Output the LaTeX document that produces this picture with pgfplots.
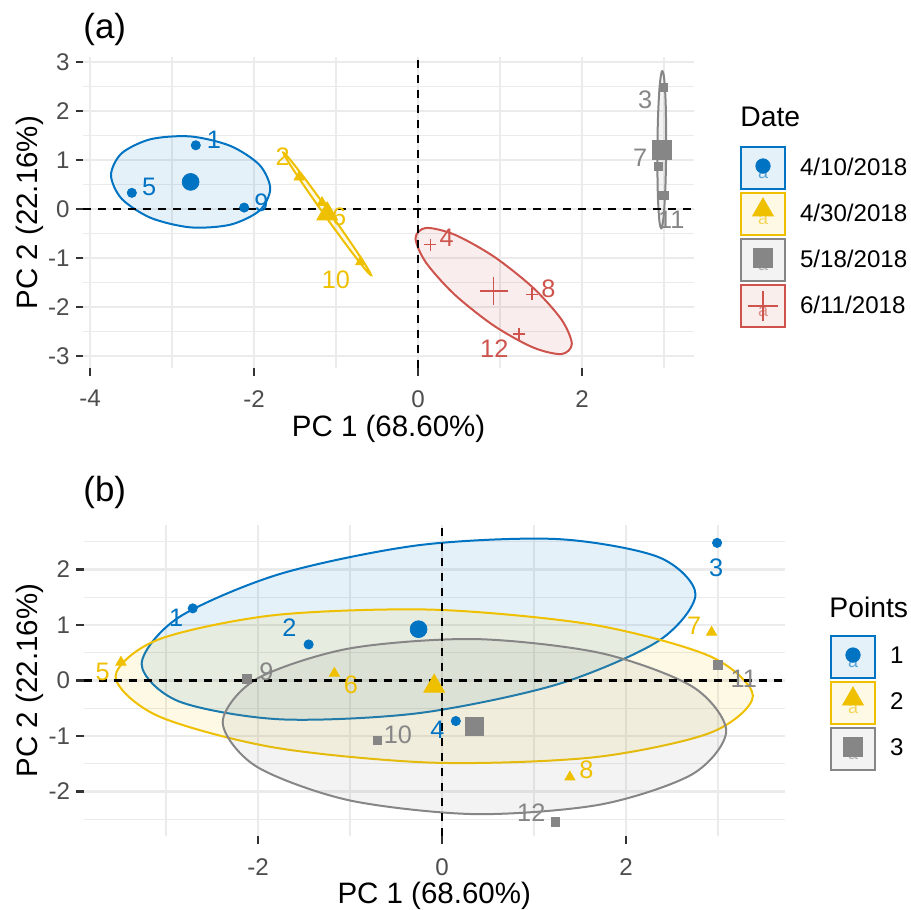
\documentclass[border=0pt]{standalone}
\usepackage{fontspec}
\setmainfont{Liberation Sans}
\usepackage{pgfplots}
\pgfplotsset{compat=1.18}
\definecolor{cB}{HTML}{0073C2}
\definecolor{cY}{HTML}{EFC000}
\definecolor{cG}{HTML}{868686}
\definecolor{cR}{HTML}{CD534C}
\definecolor{gridc}{HTML}{EBEBEB}
\definecolor{tickc}{HTML}{333333}
\definecolor{tlab}{HTML}{4D4D4D}
\newcommand{\fTick}{\fontsize{12.1}{14}\selectfont}
\newcommand{\fTitle}{\fontsize{14.8}{17}\selectfont}
\newcommand{\fLab}{\fontsize{12.7}{15}\selectfont}
\newcommand{\fLeg}{\fontsize{14.2}{17}\selectfont}
\newcommand{\fA}{\fontsize{9}{9}\selectfont}
\pgfplotsset{
  ggbase/.style={
    scale only axis,
    axis line style={draw=none},
    tick align=outside,
    tick pos=left,
    major tick length=3.75bp,
    minor tick length=0pt,
    major tick style={draw=tickc, line width=1.2bp},
    grid=both,
    major grid style={draw=gridc, line width=1.2bp},
    minor grid style={draw=gridc, line width=0.6bp},
    tick label style={font=\fTick, text=tlab, inner sep=0pt},
    xticklabel shift=7.15bp,
    yticklabel shift=2.85bp,
    legend cell align=left,
    legend style={draw=none, fill=none, inner sep=0pt, outer sep=0pt,
      row sep=1bp, column sep=7bp, font=\fTick, nodes={inner sep=0pt}},
  },
  ell/.style={smooth cycle, draw=#1, fill=#1, fill opacity=0.1, line width=1bp},
  zl/.style={black, line width=1.2bp, dash pattern=on 4bp off 3.5bp},
  lab/.style={draw=none, mark=none, nodes near coords, point meta=explicit symbolic,
    every node near coord/.append style={text=#1, font=\fLab, anchor=center, inner sep=0pt}},
  mB/.style={only marks, mark=*, mark size=2.3bp, color=cB},
  mBb/.style={only marks, mark=*, mark size=4.2bp, color=cB},
  mY/.style={only marks, mark=triangle*, mark size=2.9bp, color=cY},
  mYb/.style={only marks, mark=triangle*, mark size=6bp, color=cY},
  mG/.style={only marks, mark=square*, mark size=2.1bp, color=cG},
  mGb/.style={only marks, mark=square*, mark size=4.6bp, color=cG},
  mR/.style={only marks, mark=+, mark size=3bp, color=cR, line width=0.7bp},
  mRb/.style={only marks, mark=+, mark size=7bp, color=cR, line width=0.7bp},
}
\begin{document}
\begin{tikzpicture}
\useasboundingbox (0,0) rectangle (455.5bp,455bp);

% ---------------- panel (a) ----------------
\begin{axis}[ggbase, at={(41.6bp,270.9bp)}, anchor=south west,
  width=305.4bp, height=155.4bp,
  xmin=-4.083, xmax=3.366, ymin=-3.248, ymax=3.094,
  xtick={-4,-2,0,2}, xticklabels={-4,-2,0,2}, minor xtick={-3,-1,1,3},
  ytick={-3,-2,-1,0,1,2,3}, yticklabels={-3,-2,-1,0,1,2,3},
  minor ytick={-2.5,-1.5,-0.5,0.5,1.5,2.5},
  legend style={at={(1.0753,0.7149)}, anchor=north west}]
\addlegendimage{legend image code/.code={%
  \draw[draw=cB, fill=cB!10, line width=1bp] (0bp,-10.5bp) rectangle (22bp,10.5bp);
  \node[anchor=center, text=cB!65, font=\fA, inner sep=0pt] at (11bp,-3.5bp) {a};
  \draw[cB, mark=*, mark size=3.6bp] plot coordinates {(11bp,1bp)};}}
\addlegendentry{4/10/2018}
\addlegendimage{legend image code/.code={%
  \draw[draw=cY, fill=cY!10, line width=1bp] (0bp,-10.5bp) rectangle (22bp,10.5bp);
  \node[anchor=center, text=cY!65, font=\fA, inner sep=0pt] at (11bp,-3.5bp) {a};
  \draw[cY, mark=triangle*, mark size=6bp] plot coordinates {(11bp,2bp)};}}
\addlegendentry{4/30/2018}
\addlegendimage{legend image code/.code={%
  \draw[draw=cG, fill=cG!10, line width=1bp] (0bp,-10.5bp) rectangle (22bp,10.5bp);
  \node[anchor=center, text=cG!65, font=\fA, inner sep=0pt] at (11bp,-3.5bp) {a};
  \draw[cG, mark=square*, mark size=4.8bp] plot coordinates {(11bp,1bp)};}}
\addlegendentry{5/18/2018}
\addlegendimage{legend image code/.code={%
  \draw[draw=cR, fill=cR!10, line width=1bp] (0bp,-10.5bp) rectangle (22bp,10.5bp);
  \node[anchor=center, text=cR!65, font=\fA, inner sep=0pt] at (11bp,-3.5bp) {a};
  \draw[cR, mark=+, mark size=7.5bp, line width=0.7bp] plot coordinates {(11bp,0bp)};}}
\addlegendentry{6/11/2018}

% ellipses
\addplot[ell=cB] coordinates {(-1.802,0.415) (-1.932,0.897) (-2.287,1.287) (-2.773,1.481) (-3.259,1.425) (-3.614,1.137) (-3.744,0.691) (-3.614,0.209) (-3.259,-0.181) (-2.773,-0.375) (-2.287,-0.319) (-1.932,-0.031)};
\addplot[ell=cY] coordinates {(-0.571,-1.350) (-0.643,-1.133) (-0.839,-0.639) (-1.107,-0.001) (-1.375,0.611) (-1.571,1.032) (-1.643,1.150) (-1.571,0.933) (-1.375,0.439) (-1.107,-0.200) (-0.839,-0.811) (-0.643,-1.232)};
\addplot[ell=cG] coordinates {(3.027,1.417) (3.020,2.187) (3.000,2.696) (2.973,2.806) (2.946,2.489) (2.926,1.829) (2.919,1.003) (2.926,0.233) (2.946,-0.276) (2.973,-0.386) (3.000,-0.069) (3.020,0.591)};
\addplot[ell=cR] coordinates {(1.876,-2.752) (1.749,-2.254) (1.400,-1.601) (0.923,-0.968) (0.446,-0.523) (0.097,-0.386) (-0.030,-0.595) (0.097,-1.092) (0.446,-1.745) (0.923,-2.378) (1.400,-2.823) (1.749,-2.960)};
% zero lines
\addplot[zl] coordinates {(0,-3.248) (0,3.094)};
\addplot[zl] coordinates {(-4.083,0) (3.366,0)};
% points
\addplot[mB] coordinates {(-2.71,1.30) (-3.49,0.33) (-2.12,0.03)};
\addplot[mY] coordinates {(-1.45,0.65) (-1.17,0.13) (-0.70,-1.08)};
\addplot[mG] coordinates {(2.99,2.48) (2.93,0.87) (3.00,0.28)};
\addplot[mR] coordinates {(0.15,-0.73) (1.39,-1.74) (1.23,-2.55)};
% group means
\addplot[mBb] coordinates {(-2.773,0.553)};
\addplot[mYb] coordinates {(-1.107,-0.100)};
\addplot[mGb] coordinates {(2.973,1.210)};
\addplot[mRb] coordinates {(0.923,-1.673)};
% labels
\addplot[lab=cB] table[meta=t] {
x y t
-2.49 1.41 1
-3.28 0.46 5
-1.91 0.13 9
};
\addplot[lab=cY] table[meta=t] {
x y t
-1.65 1.06 2
-0.96 -0.16 6
-1.00 -1.44 10
};
\addplot[lab=cG] table[meta=t] {
x y t
2.77 2.23 3
2.71 1.05 7
3.09 -0.22 11
};
\addplot[lab=cR] table[meta=t] {
x y t
0.35 -0.59 4
1.59 -1.63 8
0.93 -2.84 12
};
\end{axis}

% ---------------- panel (b) ----------------
\begin{axis}[ggbase, at={(41.85bp,36.9bp)}, anchor=south west,
  width=350.5bp, height=155.65bp,
  xmin=-3.895, xmax=3.725, ymin=-2.805, ymax=2.804,
  xtick={-2,0,2}, xticklabels={-2,0,2}, minor xtick={-3,-1,1,3},
  ytick={-2,-1,0,1,2}, yticklabels={-2,-1,0,1,2},
  minor ytick={-2.5,-1.5,-0.5,0.5,1.5,2.5},
  legend style={at={(1.0646,0.6463)}, anchor=north west}]
\addlegendimage{legend image code/.code={%
  \draw[draw=cB, fill=cB!10, line width=1bp] (0bp,-10.5bp) rectangle (22bp,10.5bp);
  \node[anchor=center, text=cB!65, font=\fA, inner sep=0pt] at (11bp,-3.5bp) {a};
  \draw[cB, mark=*, mark size=3.6bp] plot coordinates {(11bp,1bp)};}}
\addlegendentry{1}
\addlegendimage{legend image code/.code={%
  \draw[draw=cY, fill=cY!10, line width=1bp] (0bp,-10.5bp) rectangle (22bp,10.5bp);
  \node[anchor=center, text=cY!65, font=\fA, inner sep=0pt] at (11bp,-3.5bp) {a};
  \draw[cY, mark=triangle*, mark size=6bp] plot coordinates {(11bp,2bp)};}}
\addlegendentry{2}
\addlegendimage{legend image code/.code={%
  \draw[draw=cG, fill=cG!10, line width=1bp] (0bp,-10.5bp) rectangle (22bp,10.5bp);
  \node[anchor=center, text=cG!65, font=\fA, inner sep=0pt] at (11bp,-3.5bp) {a};
  \draw[cG, mark=square*, mark size=4.8bp] plot coordinates {(11bp,1bp)};}}
\addlegendentry{3}

\addplot[ell=cB] coordinates {(2.755,1.553) (2.352,2.225) (1.250,2.549) (-0.255,2.438) (-1.760,1.921) (-2.862,1.138) (-3.265,0.297) (-2.862,-0.375) (-1.760,-0.699) (-0.255,-0.588) (1.250,-0.071) (2.352,0.712)};
\addplot[ell=cY] coordinates {(3.379,-0.277) (2.915,0.436) (1.647,1.004) (-0.085,1.276) (-1.817,1.179) (-3.085,0.738) (-3.549,0.072) (-3.085,-0.641) (-1.817,-1.209) (-0.085,-1.481) (1.647,-1.384) (2.915,-0.943)};
\addplot[ell=cG] coordinates {(3.089,-0.909) (2.722,-0.110) (1.721,0.496) (0.353,0.747) (-1.016,0.575) (-2.017,0.027) (-2.384,-0.751) (-2.017,-1.550) (-1.016,-2.156) (0.353,-2.407) (1.721,-2.235) (2.722,-1.687)};
\addplot[zl] coordinates {(0,-2.805) (0,2.804)};
\addplot[zl] coordinates {(-3.895,0) (3.725,0)};
\addplot[mB] coordinates {(-2.71,1.30) (-1.45,0.65) (2.99,2.48) (0.15,-0.73)};
\addplot[mY] coordinates {(-3.49,0.33) (-1.17,0.13) (2.93,0.87) (1.39,-1.74)};
\addplot[mG] coordinates {(-2.12,0.03) (-0.70,-1.08) (3.00,0.28) (1.23,-2.55)};
\addplot[mBb] coordinates {(-0.255,0.925)};
\addplot[mYb] coordinates {(-0.085,-0.1025)};
\addplot[mGb] coordinates {(0.3525,-0.83)};
\addplot[lab=cB] table[meta=t] {
x y t
-2.89 1.13 1
-1.66 0.95 2
2.98 2.04 3
-0.05 -0.89 4
};
\addplot[lab=cY] table[meta=t] {
x y t
-3.69 0.15 5
-0.99 -0.08 6
2.74 0.98 7
1.57 -1.61 8
};
\addplot[lab=cG] table[meta=t] {
x y t
-1.91 0.15 9
-0.48 -0.98 10
3.28 0.03 11
0.97 -2.38 12
};
\end{axis}

% titles and axis titles
\node[anchor=west, font=\fontsize{17.5}{20}\selectfont, inner sep=0pt] at (41.5bp,440.5bp) {(a)};
\node[anchor=west, font=\fontsize{17.5}{20}\selectfont, inner sep=0pt] at (41.5bp,208.75bp) {(b)};
\node[anchor=base, font=\fTitle, inner sep=0pt] at (194.3bp,236.5bp) {PC 1 (68.60\%)};
\node[anchor=base, font=\fTitle, inner sep=0pt] at (217.1bp,3.5bp) {PC 1 (68.60\%)};
\node[rotate=90, anchor=base, font=\fTitle, inner sep=0pt] at (18.5bp,348.6bp) {PC 2 (22.16\%)};
\node[rotate=90, anchor=base, font=\fTitle, inner sep=0pt] at (18.5bp,114.75bp) {PC 2 (22.16\%)};
\node[anchor=west, font=\fLeg, inner sep=0pt] at (370bp,396.5bp) {Date};
\node[anchor=west, font=\fLeg, inner sep=0pt] at (414.5bp,151.5bp) {Points};
\end{tikzpicture}
\end{document}
